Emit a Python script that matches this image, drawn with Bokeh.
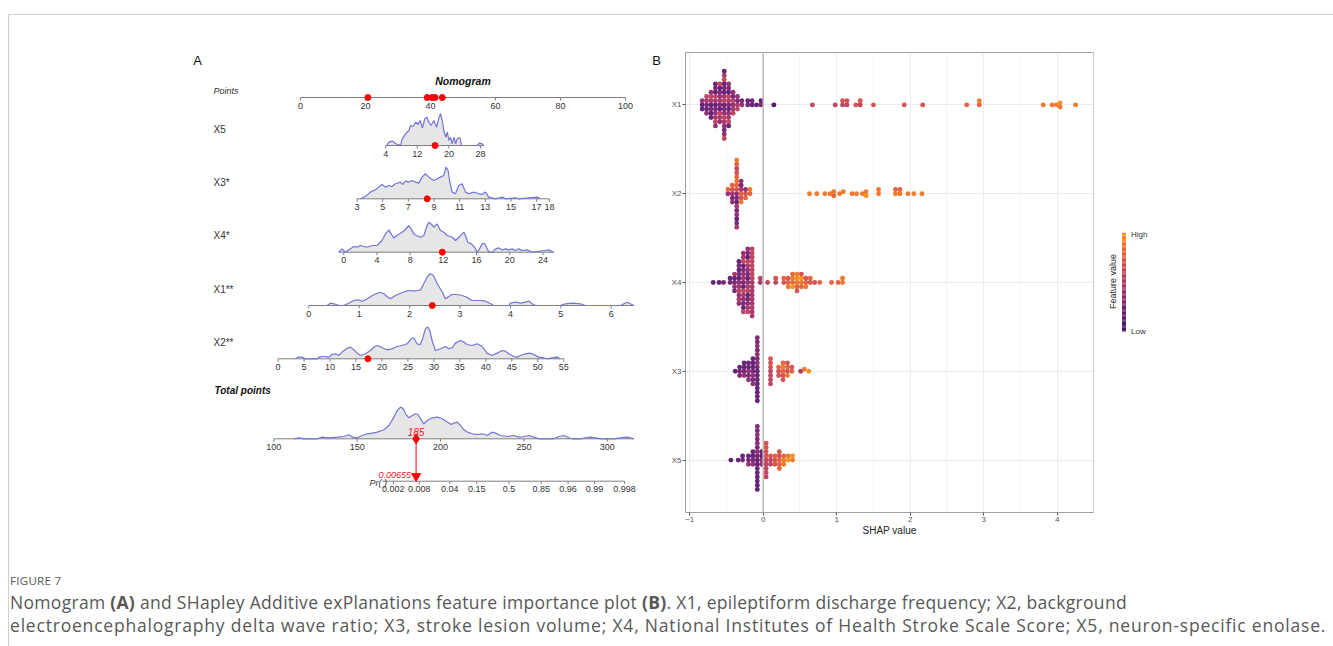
import math
import numpy as np
from bokeh.plotting import figure
from bokeh.models import Range1d, FixedTicker, Span, Div, Spacer
from bokeh.layouts import row, column
from bokeh.palettes import Inferno256
from bokeh.core.properties import value
from bokeh.embed import file_html
from bokeh.resources import INLINE

FONT = "Liberation Sans"

# ======================= DATA : nomogram (panel A) =======================
points_ticks = [0, 20, 40, 60, 80, 100]

x5_ticks = [4, 12, 20, 28]
x3_ticks = [3, 5, 7, 9, 11, 13, 15, 17, 18]
x4_ticks = [0, 4, 8, 12, 16, 20, 24]
x1_ticks = [0, 1, 2, 3, 4, 5, 6]
x2_ticks = [0, 5, 10, 15, 20, 25, 30, 35, 40, 45, 50, 55]

# predictor value range -> nomogram points
x5_scale = [4, 28]
x5_points = [26.2, 55.4]
x3_scale = [3, 18]
x3_points = [17.4, 76.6]
x4_scale = [0, 24]
x4_points = [13.3, 74.6]
x1_scale = [0, 6]
x1_points = [2.55, 95.6]
x2_scale = [0, 55]
x2_points = [-6.9, 81.0]

# the example patient (red markers)
x5_value = 16.5
x3_value = 8.47
x4_value = 11.87
x1_value = 2.45
x2_value = 17.3

# density curves drawn above each scale (value, relative density)
x5_dens_v = [4.25, 4.84, 5.7, 6.9, 7.8, 8.2, 9.05, 9.9, 10.3, 10.9, 11.6, 12.2, 12.7, 13.3, 13.9, 14.4, 14.9,
             15.5, 16.2, 16.9, 17.5, 17.9, 18.3, 18.7, 19.2, 19.6, 20.0, 20.4, 20.8, 21.3, 21.7, 22.1, 22.8,
             23.2, 27.2, 27.7, 28.4, 28.8]
x5_dens_h = [0, 3.3, 4.3, 1, 0.7, 6.7, 11.7, 15, 20, 19, 23.3, 21, 25, 17.7, 26.7, 28.3, 23.3, 20, 25, 18.3,
             28.3, 31.7, 25, 15, 8.3, 13.3, 5, 8.3, 1.7, 8.3, 1.7, 6.7, 7.7, 0, 0, 2.3, 1.7, 0]
x3_dens_v = [3.26, 3.65, 4.04, 4.43, 4.69, 4.95, 5.21, 5.47, 5.73, 5.99, 6.38, 6.56, 6.77, 7.03, 7.29, 7.55,
             7.81, 8.07, 8.33, 8.59, 8.77, 8.98, 9.24, 9.5, 9.76, 9.94, 10.1, 10.23, 10.41, 10.67, 10.93,
             11.19, 11.45, 11.71, 12.1, 12.49, 12.75, 13.0, 13.27, 13.79, 14.31, 14.57, 15.35, 15.61, 17.04,
             17.3]
x3_dens_h = [0, 2.3, 6.7, 9, 11.7, 14.3, 11.7, 13.3, 12.3, 15, 16.7, 14.3, 17.7, 16.7, 18.3, 16.7, 15.7,
             21.7, 25, 21.7, 20, 18.3, 20, 21.7, 23.3, 31.7, 28.3, 16.7, 6.7, 5, 13.3, 15, 6.7, 5, 6.7, 5,
             4.3, 6.7, 1.7, 0, 1.7, 0, 1, 0, 1.7, 0]
x4_dens_v = [-0.6, -0.2, 0.2, 1.21, 1.61, 2.01, 2.41, 2.81, 3.42, 4.02, 4.62, 5.03, 5.43, 5.71, 6.03, 6.43,
             6.83, 7.32, 7.84, 8.12, 8.44, 8.76, 9.25, 9.65, 10.05, 10.25, 10.53, 10.85, 11.26, 11.66, 12.06,
             12.46, 13.07, 13.47, 13.87, 14.27, 14.47, 14.67, 14.95, 15.36, 15.76, 16.08, 16.36, 16.68,
             16.96, 17.2, 17.49, 17.89, 18.29, 18.69, 19.1, 19.5, 19.9, 20.3, 20.7, 21.1, 21.5, 22.1, 22.7,
             24.3, 24.7, 25.3]
x4_dens_h = [0, 3.3, 0, 5.7, 5, 6.7, 5.7, 5, 6.7, 6.7, 11.7, 18.3, 22.3, 18.3, 14.3, 16.7, 19, 21.7, 26.7,
             23.3, 18.3, 16.7, 15, 16.7, 26.7, 30, 28.3, 25, 28.3, 21.7, 20, 16.7, 15, 11.7, 15, 18.3, 20,
             16.7, 10, 8.3, 5, 0, 3.3, 8.3, 9, 5, 0, 0, 3.3, 4.3, 2.3, 3.3, 2.3, 3.3, 1.7, 3.3, 1.7, 2.3, 0,
             1.7, 2.3, 0]
x1_dens_v = [0.36, 0.43, 0.5, 0.6, 0.69, 0.79, 0.89, 0.99, 1.06, 1.16, 1.26, 1.36, 1.42, 1.49, 1.55, 1.62,
             1.72, 1.82, 1.92, 2.02, 2.08, 2.15, 2.22, 2.28, 2.35, 2.4, 2.45, 2.49, 2.55, 2.65, 2.71, 2.78,
             2.84, 2.94, 3.04, 3.14, 3.21, 3.27, 3.41, 3.51, 3.61, 3.67, 3.97, 4.0, 4.1, 4.2, 4.3, 4.37, 4.43,
             4.5, 4.99, 5.09, 5.23, 5.39, 5.49, 6.19, 6.25, 6.32, 6.38, 6.45]
x1_dens_h = [0, 2.3, 1.7, 0, 0, 2.3, 5, 5.7, 4.3, 6.7, 10, 12.3, 13.3, 11.7, 9, 6.7, 10, 12.3, 14.3, 15,
             14.3, 15, 15.7, 21.7, 28.3, 31.7, 31, 28.3, 21.7, 13.3, 6.7, 9, 11, 11, 10, 8.3, 5.7, 5, 5, 4.3,
             1.7, 0, 0, 2.3, 3.3, 2.3, 3.3, 4.3, 1.7, 0, 0, 1.7, 2.3, 1.7, 0, 0, 1.7, 3.3, 1.7, 0]
x2_dens_v = [3.34, 3.98, 4.62, 5.26, 7.51, 8.15, 9.11, 9.76, 10.4, 11.04, 11.68, 12.32, 13.16, 13.93, 14.57,
             15.21, 15.85, 16.82, 17.78, 18.61, 19.19, 20.02, 20.99, 21.95, 22.91, 23.87, 24.84, 25.61,
             26.12, 26.76, 27.41, 27.92, 28.37, 28.82, 29.2, 29.65, 30.29, 31.26, 32.22, 32.86, 33.5, 34.14,
             35.11, 35.75, 36.39, 37.35, 38.32, 39.28, 40.24, 41.2, 42.17, 43.13, 43.77, 44.41, 45.37,
             46.02, 46.66, 47.62, 48.46, 49.23, 50.19, 51.15, 51.79, 52.76, 53.72, 54.36]
x2_dens_h = [0, 1.7, 1.7, 0, 0, 2.3, 2.3, 1.7, 4.3, 5, 3.3, 6.7, 10, 11.7, 9, 5.7, 3.3, 5, 8.3, 12.3, 13.3,
             11, 9, 10, 12.3, 13.3, 15, 20, 21, 15, 14.3, 21.7, 30, 31.7, 28.3, 18.3, 8.3, 10, 12.3, 10, 11,
             15.7, 18.3, 16.7, 14.3, 13.3, 15, 12.3, 5.7, 3.3, 5.7, 8.3, 7.7, 5, 2.3, 1.7, 3.3, 5, 5.7, 4.3,
             1.7, 1, 0, 1, 1.7, 0]

total_ticks = [100, 150, 200, 250, 300]
total_ref = [100, 300]
total_ref_points = [-8.2, 94.4]
total_dens_v = [112, 115, 118, 126, 129, 133, 138, 142, 145, 147, 150, 153, 156, 159, 162, 166, 169, 172, 174,
                176, 177.6, 179, 181, 183, 185, 186.4, 188, 190, 192, 195, 198, 201, 204, 206.4, 208, 210,
                212, 214, 216, 219, 222, 225, 228, 231, 233, 236, 240, 244, 247, 250, 253, 256, 259, 268,
                271, 274, 277, 279, 284, 287, 290, 293, 296, 304, 308, 312, 316]
total_dens_h = [0, 1, 0, 0, 1.7, 1, 1.7, 2.3, 4, 1.7, 1, 3.3, 5, 5.7, 6.7, 9, 13.3, 21.7, 28.3, 31.7, 30, 25,
                21, 23.3, 25, 24.3, 20, 15, 18.3, 21, 21.7, 20, 16.7, 14.3, 15.7, 16.7, 13.3, 9, 6.7, 5, 4.3,
                5, 3.3, 6.7, 5.7, 3.3, 2.3, 3.3, 1.7, 2.3, 3.3, 1.7, 0, 0, 2.3, 3.3, 1, 0, 0, 1, 1.7, 1, 0,
                0, 1, 1.7, 0]

pr_ticks = [0.002, 0.008, 0.04, 0.15, 0.5, 0.85, 0.96, 0.99, 0.998]
pr_labels = ["0.002", "0.008", "0.04", "0.15", "0.5", "0.85", "0.96", "0.99", "0.998"]
pr_line_ends = [0.0011, 0.998]
pr_t0 = 241.0        # total points where Pr = 0.5
pr_slope = 0.0896    # logit per total point
pr_value_label = "0.00655"

# ======================= DATA : SHAP beeswarm (panel B) =======================
shap_features = ["X1", "X2", "X4", "X3", "X5"]
# SHAP value of each group of dots; string = feature value level (0 low .. 9 high) of each dot
X1_shap = [-0.83, -0.77, -0.71, -0.65, -0.59, -0.53, -0.47, -0.41, -0.35, -0.29, -0.21, -0.15, -0.09, -0.03,
           0.145, 0.67, 0.98, 1.08, 1.14, 1.26, 1.32, 1.50, 1.92, 2.17, 2.77, 2.94, 3.81, 3.93, 3.99, 4.04,
           4.25]
X1_fv = ["131", "24153", "1425131", "14253142513", "2413524135", "15243152413524315", "24153142531",
         "354253", "4253", "32", "21", "12", "1", "21", "0", "5", "5", "56", "56", "6", "56", "6", "6", "6",
         "7", "78", "8", "8", "8", "98", "8"]
X2_shap = [-0.48, -0.42, -0.36, -0.30, -0.24, -0.18, 0.63, 0.73, 0.84, 0.91, 0.96, 1.04, 1.09, 1.21, 1.27,
           1.35, 1.40, 1.57, 1.80, 1.86, 1.97, 2.05, 2.16]
X2_fv = ["37", "46273", "36271847263517284", "746283", "637", "78", "8", "8", "8", "8", "87", "8", "8", "8",
         "8", "8", "89", "88", "87", "87", "8", "8", "8"]
X4_shap = [-0.68, -0.60, -0.54, -0.45, -0.39, -0.33, -0.27, -0.21, -0.15, -0.04, 0.06, 0.17, 0.28, 0.34,
           0.40, 0.46, 0.52, 0.58, 0.64, 0.70, 0.77, 0.93, 1.02, 1.08]
X4_fv = ["1", "1", "2", "21", "21342", "31425132413", "241352413524135", "3142531425314253",
         "45454545454545454", "45", "5", "56", "67", "768", "7897", "89786", "8976", "768", "67", "6", "7",
         "7", "7", "88"]
X3_shap = [-0.38, -0.32, -0.26, -0.20, -0.14, -0.08, 0.10, 0.21, 0.27, 0.33, 0.39, 0.51, 0.56, 0.62]
X3_fv = ["1", "212", "2131", "31213", "2131213", "1213121312131212", "5656565", "676", "78676", "6786",
         "76", "4", "8", "9"]
X5_shap = [-0.44, -0.34, -0.28, -0.20, -0.14, -0.08, -0.02, 0.04, 0.10, 0.16, 0.22, 0.28, 0.34, 0.40]
X5_fv = ["1", "1", "21", "213", "2131", "1213121312131212", "3131", "565656565", "565", "676", "76767",
         "878", "98", "89"]

shap_ticks = [-1, 0, 1, 2, 3, 4]
legend_labels = ["Low", "High"]

caption_head = "FIGURE 7"
caption_line1 = ("Nomogram <b>(A)</b> and SHapley Additive exPlanations feature importance plot <b>(B)</b>. "
                 "X1, epileptiform discharge frequency; X2, background")
caption_line2 = ("electroencephalography delta wave ratio; X3, stroke lesion volume; X4, National Institutes "
                 "of Health Stroke Scale Score; X5, neuron-specific enolase.")

# ======================= helpers =======================
def txt(p, xs, ys, texts, size=9, color="#333333", style="normal", align="left", baseline="middle",
        angle=0.0, x_offset=0):
    p.text(x=list(xs), y=list(ys), text=list(texts), text_font=value(FONT),
           text_font_size=value(f"{size}px"), text_font_style=style, text_color=color,
           text_align=align, text_baseline=baseline, angle=angle, x_offset=x_offset)


def lvl_color(level):
    t = max(0.0, min(1.0, level / 9.0))
    return Inferno256[int(round(50 + t * (190 - 50)))]


# layout: all three plots share the same frame top/bottom (Bokeh aligns them in a row)
FIG_H = 530
B_TOP, B_BOT = 37, 33
Y_TOP_PX, Y_BOT_PX = 15 + B_TOP, 15 + FIG_H - B_BOT     # page pixel rows of the frame (52, 512)

# ======================= panel A: nomogram =======================
PX0, PXPT = 300.0, 3.25           # layout: x pixel of 0 points, pixels per point


def pt(xpx):
    return (xpx - PX0) / PXPT


AX = "#7f7f7f"
DENS_LINE = "#7474d8"
DENS_FILL = "#e6e6e6"
RED = "#ff0000"

pa = figure(width=659, height=FIG_H, x_range=Range1d(pt(9), pt(668)), y_range=Range1d(Y_BOT_PX, Y_TOP_PX),
            x_axis_location=None, y_axis_location=None, min_border_left=0, min_border_right=0,
            min_border_top=B_TOP, min_border_bottom=B_BOT, output_backend="svg",
            toolbar_location=None, background_fill_color="white", border_fill_color="white")
pa.xgrid.visible = False
pa.ygrid.visible = False
pa.outline_line_color = None


def draw_axis(p, y, tick_x, labels, x0, x1):
    n = len(tick_x)
    p.segment(x0=[x0], y0=[y], x1=[x1], y1=[y], line_color=AX, line_width=1)
    p.segment(x0=tick_x, y0=[y] * n, x1=tick_x, y1=[y + 3] * n, line_color=AX, line_width=1)
    txt(p, tick_x, [y + 8] * n, labels, size=9, color="#333333", align="center")


def draw_density(p, y, xs, hs):
    tops = [y - h for h in hs]
    p.varea(x=xs, y1=[y] * len(xs), y2=tops, fill_color=DENS_FILL)
    return tops


# titles
txt(pa, [pt(197)], [60], ["A"], size=13, color="#111111", align="center")
txt(pa, [pt(656)], [60], ["B"], size=13, color="#111111", align="center")
txt(pa, [pt(462.5)], [80], ["Nomogram"], size=10.5, color="#111111", style="bold italic", align="center")

# Points axis
Y_POINTS = 97.0
txt(pa, [pt(213)], [90.5], ["Points"], size=9, color="#333333", style="italic")
draw_axis(pa, Y_POINTS, points_ticks, [str(t) for t in points_ticks], points_ticks[0], points_ticks[-1])

variables = [
    ("X5", x5_ticks, x5_scale, x5_points, x5_value, x5_dens_v, x5_dens_h, 145.0, 129.0),
    ("X3*", x3_ticks, x3_scale, x3_points, x3_value, x3_dens_v, x3_dens_h, 198.3, 182.0),
    ("X4*", x4_ticks, x4_scale, x4_points, x4_value, x4_dens_v, x4_dens_h, 251.7, 235.0),
    ("X1**", x1_ticks, x1_scale, x1_points, x1_value, x1_dens_v, x1_dens_h, 305.0, 288.5),
    ("X2**", x2_ticks, x2_scale, x2_points, x2_value, x2_dens_v, x2_dens_h, 358.3, 342.0),
]

patient_points = []
for name, ticks, scale, pts_, val, dv, dh, y, ly in variables:
    def to_pts(v, scale=scale, pts_=pts_):
        return pts_[0] + (v - scale[0]) * (pts_[1] - pts_[0]) / (scale[1] - scale[0])
    xs = [to_pts(v) for v in dv]
    tops = draw_density(pa, y, xs, dh)
    lo = min(ticks[0], dv[0])
    hi = max(ticks[-1], dv[-1])
    draw_axis(pa, y, [to_pts(t) for t in ticks], [str(t) for t in ticks], to_pts(lo), to_pts(hi))
    pa.line(x=xs, y=tops, line_color=DENS_LINE, line_width=1.2)
    txt(pa, [pt(213)], [ly], [name], size=10, color="#333333")
    pp = to_pts(val)
    patient_points.append(pp)
    pa.scatter(x=[pp], y=[y], size=6, fill_color=RED, line_color=RED)

pa.scatter(x=patient_points, y=[Y_POINTS] * len(patient_points), size=6, fill_color=RED, line_color=RED)

# Total points
Y_TOTAL = 438.3
Y_PR = 480.7


def total_x(t):
    return total_ref_points[0] + (t - total_ref[0]) * (total_ref_points[1] - total_ref_points[0]) / (
        total_ref[1] - total_ref[0])


txt(pa, [pt(214)], [390], ["Total points"], size=10, color="#111111", style="bold italic")
txs = [total_x(v) for v in total_dens_v]
ttops = draw_density(pa, Y_TOTAL, txs, total_dens_h)
draw_axis(pa, Y_TOTAL, [total_x(t) for t in total_ticks], [str(t) for t in total_ticks],
          total_x(min(total_ticks[0], total_dens_v[0])), total_x(max(total_ticks[-1], total_dens_v[-1])))
pa.line(x=txs, y=ttops, line_color=DENS_LINE, line_width=1.2)

total = sum(patient_points)
tx = total_x(total)


def logit(p):
    return math.log(p / (1 - p))


def pr_x(p):
    return total_x(pr_t0 + logit(p) / pr_slope)


draw_axis(pa, Y_PR, [pr_x(p) for p in pr_ticks], pr_labels, pr_x(pr_line_ends[0]), pr_x(pr_line_ends[1]))
txt(pa, [pt(369)], [482], ["Pr( )"], size=9, color="#333333", style="italic")

pa.segment(x0=[tx], y0=[Y_TOTAL], x1=[tx], y1=[Y_PR - 6], line_color=RED, line_width=1)
pa.scatter(x=[tx], y=[Y_TOTAL], marker="diamond", size=10, fill_color=RED, line_color=RED)
pa.scatter(x=[tx], y=[Y_PR - 5], marker="inverted_triangle", size=9, fill_color=RED, line_color=RED)
txt(pa, [tx], [431.5], [f"{total:.0f}"], size=10, color="#e8212a", style="italic", align="center")
txt(pa, [tx], [474], [pr_value_label], size=9, color="#e8212a", style="italic", align="right", x_offset=-5)

# ======================= panel B: SHAP beeswarm =======================
XR = (-1.057, 4.494)
YR = (5.59, 0.41)
FRAME_W, FRAME_H = 408.0, float(FIG_H - B_TOP - B_BOT)
PXU = FRAME_W / (XR[1] - XR[0])
PYU = FRAME_H / (YR[0] - YR[1])
DOT = 4.9
D = 4.2


def swarm(xpx, d):
    n = len(xpx)
    order = sorted(range(n), key=lambda i: xpx[i])
    placed = []
    ys = [0.0] * n
    for i in order:
        xi = xpx[i]
        iv = []
        for xj, yj in placed:
            dx = abs(xi - xj)
            if dx < d:
                h = math.sqrt(d * d - dx * dx)
                iv.append((yj - h, yj + h))
        cands = [0.0] + [a for a, b in iv] + [b for a, b in iv]
        cands.sort(key=lambda c: (round(abs(c), 6), c))
        for c in cands:
            if all(not (a + 1e-6 < c < b - 1e-6) for a, b in iv):
                ys[i] = c
                break
        placed.append((xi, ys[i]))
    return ys


pb = figure(width=432, height=FIG_H, x_range=Range1d(*XR), y_range=Range1d(*YR),
            min_border_left=17, min_border_right=7, min_border_top=B_TOP, min_border_bottom=B_BOT,
            output_backend="svg", toolbar_location=None, background_fill_color="white",
            border_fill_color="white")
pb.outline_line_color = "#a0a0a0"
pb.outline_line_width = 1
pb.xaxis.ticker = FixedTicker(ticks=shap_ticks, minor_ticks=[t + 0.5 for t in shap_ticks])
pb.yaxis.ticker = FixedTicker(ticks=list(range(1, len(shap_features) + 1)))
pb.yaxis.major_label_overrides = {i + 1: f for i, f in enumerate(shap_features)}
pb.xgrid.grid_line_color = "#ebebeb"
pb.xgrid.minor_grid_line_color = "#f5f5f5"
pb.ygrid.grid_line_color = "#ebebeb"
for ax in (pb.xaxis, pb.yaxis):
    ax.axis_line_color = None
    ax.major_tick_out = 3
    ax.major_tick_in = 0
    ax.major_tick_line_color = "#555555"
    ax.minor_tick_line_color = None
    ax.major_label_text_font = FONT
    ax.major_label_text_font_size = "8px"
    ax.major_label_text_color = "#555555"
    ax.major_label_standoff = 1
pb.xaxis.major_label_standoff = 0
pb.xaxis.axis_label = "SHAP value"
pb.xaxis.axis_label_text_font = FONT
pb.xaxis.axis_label_text_font_size = "10px"
pb.xaxis.axis_label_text_font_style = "normal"
pb.xaxis.axis_label_text_color = "#222222"
pb.xaxis.axis_label_standoff = 0

pb.add_layout(Span(location=0, dimension="height", line_color="#bdbdbd", line_width=1.6))

shap_rows = [(X1_shap, X1_fv), (X2_shap, X2_fv), (X4_shap, X4_fv), (X3_shap, X3_fv), (X5_shap, X5_fv)]
all_x, all_y, all_c = [], [], []
for k, (sh, fv) in enumerate(shap_rows, start=1):
    xs, lv = [], []
    for s, code in zip(sh, fv):
        for ch in code:
            xs.append(s)
            lv.append(int(ch))
    offs = swarm([x * PXU for x in xs], D)
    all_x += xs
    all_y += [k + o / PYU for o in offs]
    all_c += [lvl_color(l) for l in lv]
pb.scatter(x=all_x, y=all_y, size=DOT, fill_color=all_c, line_color=None, fill_alpha=0.92)

# ======================= legend column =======================
pc = figure(width=224, height=FIG_H, x_range=Range1d(1100, 1324), y_range=Range1d(Y_BOT_PX, Y_TOP_PX),
            x_axis_location=None, y_axis_location=None, min_border_left=0, min_border_right=0,
            min_border_top=B_TOP, min_border_bottom=B_BOT, output_backend="svg",
            toolbar_location=None, background_fill_color="white", border_fill_color="white")
pc.xgrid.visible = False
pc.ygrid.visible = False
pc.outline_line_color = None
N = 80
edges = np.linspace(232.5, 331, N + 1)
gcols = [lvl_color(9.0 * (1 - (i + 0.5) / N)) for i in range(N)]
pc.quad(left=1121.5, right=1125.5, top=edges[:-1], bottom=edges[1:], fill_color=gcols, line_color=None)
txt(pc, [1130.5, 1130.5], [331, 233.5], legend_labels, size=8, color="#333333")
txt(pc, [1112.5], [281], ["Feature value"], size=9, color="#222222", align="center", angle=math.pi / 2)

# ======================= caption =======================
cap_html = (
    '<div style="font-family:\'Open Sans\',sans-serif;color:#585858;padding:23px 0 0 0;margin-left:-4px;">'
    f'<div style="font-size:11.5px;line-height:16px;letter-spacing:0.3px;">{caption_head}</div>'
    '<div style="font-size:17.5px;line-height:23px;margin-top:2px;white-space:nowrap;">'
    f'<span style="letter-spacing:0.3px;">{caption_line1}</span><br>'
    f'<span style="letter-spacing:0.8px;">{caption_line2}</span></div></div>'
)
cap = Div(text=cap_html, width=1315, height=95)

box = column(row(pa, pb, pc), cap,
             styles={"border-top": "1px solid #cfcfcf", "border-left": "1px solid #cfcfcf",
                     "border-right": "1px solid #cfcfcf"})
root = column(Spacer(width=1325, height=14), row(Spacer(width=8, height=10), box))

open("out.html", "w").write(file_html(root, INLINE, "Figure 7"))
